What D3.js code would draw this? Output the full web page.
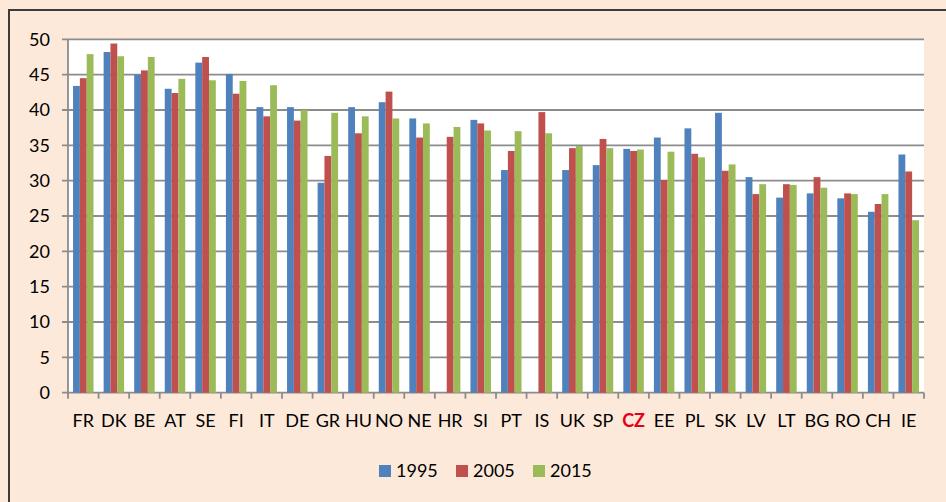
<!DOCTYPE html>
<html>
<head>
<meta charset="utf-8">
<script src="https://cdn.jsdelivr.net/npm/d3@7"></script>
<style>
  body { margin: 0; background: #fde9d9; }
  svg { display: block; }
  text { font-family: Lato, "Open Sans", sans-serif; }
</style>
</head>
<body>
<svg width="946" height="502"></svg>
<script>
// Data
const countries = ["FR", "DK", "BE", "AT", "SE", "FI", "IT", "DE", "GR", "HU", "NO", "NE", "HR", "SI",
  "PT", "IS", "UK", "SP", "CZ", "EE", "PL", "SK", "LV", "LT", "BG", "RO", "CH", "IE"];
const years = ["1995", "2005", "2015"];
const values1995 = [43.4, 48.2, 45.0, 43.0, 46.7, 45.1, 40.4, 40.4, 29.7, 40.4, 41.1, 38.8, 0, 38.6,
  31.5, 0, 31.5, 32.2, 34.5, 36.1, 37.4, 39.6, 30.5, 27.6, 28.2, 27.5, 25.6, 33.7];
const values2005 = [44.5, 49.4, 45.6, 42.4, 47.5, 42.3, 39.1, 38.5, 33.5, 36.7, 42.6, 36.1, 36.2, 38.1,
  34.2, 39.7, 34.6, 35.9, 34.2, 30.1, 33.8, 31.4, 28.1, 29.5, 30.5, 28.2, 26.7, 31.3];
const values2015 = [47.9, 47.6, 47.5, 44.4, 44.2, 44.1, 43.5, 40.0, 39.6, 39.1, 38.8, 38.1, 37.6, 37.1,
  37.0, 36.7, 34.9, 34.6, 34.4, 34.1, 33.3, 32.3, 29.5, 29.4, 29.0, 28.1, 28.1, 24.4];
const yTicks = [0, 5, 10, 15, 20, 25, 30, 35, 40, 45, 50];
const colors = ["#4f81bd", "#c0504d", "#9bbb59"];

const series = [values1995, values2005, values2015];

let svg = d3.select("svg");

// ramme
svg.append("rect")
  .attr("x", 9).attr("y", 10)
  .attr("width", 960).attr("height", 520)
  .attr("fill", "#fde9d9")
  .attr("stroke", "#3b3b3b")
  .attr("stroke-width", 2);

const plotLeft = 68, plotRight = 924, plotTop = 39.3, plotBottom = 392.7;

const x = d3.scaleBand().domain(countries).range([plotLeft, plotRight]).padding(0);
const xInner = d3.scaleBand().domain(years).range([0, x.bandwidth()])
  .paddingInner(0).paddingOuter(0.74);
const y = d3.scaleLinear().domain([0, 50]).range([plotBottom, plotTop]);

// plot område
svg.append("rect")
  .attr("x", plotLeft).attr("y", plotTop)
  .attr("width", plotRight - plotLeft).attr("height", plotBottom - plotTop)
  .attr("fill", "white");

// gridlines
svg.append("g")
  .selectAll("line")
  .data(yTicks)
  .enter()
  .append("line")
  .attr("x1", plotLeft - 6).attr("x2", plotRight)
  .attr("y1", (d) => y(d)).attr("y2", (d) => y(d))
  .attr("stroke", "#8c8c8c")
  .attr("stroke-width", 1.8);

// søjler
years.forEach((yr, i) => {
  svg.append("g")
    .selectAll("rect")
    .data(countries)
    .enter()
    .append("rect")
    .attr("x", (d) => x(d) + xInner(yr))
    .attr("width", xInner.bandwidth())
    .attr("y", (d, j) => y(series[i][j]))
    .attr("height", (d, j) => plotBottom - y(series[i][j]))
    .attr("fill", colors[i]);
});

// y akse linje
svg.append("line")
  .attr("x1", plotLeft).attr("x2", plotLeft)
  .attr("y1", plotTop).attr("y2", plotBottom)
  .attr("stroke", "#8c8c8c").attr("stroke-width", 1.8);

// x ticks
const xTickPos = countries.map((c) => x(c)).concat([plotRight]);
svg.append("g")
  .selectAll("line")
  .data(xTickPos)
  .enter()
  .append("line")
  .attr("x1", (d) => d).attr("x2", (d) => d)
  .attr("y1", plotBottom).attr("y2", plotBottom + 6)
  .attr("stroke", "#8c8c8c").attr("stroke-width", 1.8);

// y labels
svg.append("g")
  .selectAll("text")
  .data(yTicks)
  .enter()
  .append("text")
  .attr("x", 50)
  .attr("y", (d) => y(d))
  .attr("dy", "0.35em")
  .attr("text-anchor", "end")
  .style("font-size", "18px")
  .attr("fill", "#000")
  .text((d) => d);

// x labels
svg.append("g")
  .selectAll("text")
  .data(countries)
  .enter()
  .append("text")
  .attr("x", (d) => x(d) + x.bandwidth() / 2)
  .attr("y", 421)
  .attr("dy", "0.35em")
  .attr("text-anchor", "middle")
  .style("font-size", "18px")
  .style("font-weight", (d) => (d === "CZ" ? "bold" : "normal"))
  .attr("fill", (d) => (d === "CZ" ? "#e3001b" : "#000"))
  .text((d) => d);

// legend
const legendX = [379, 456, 533];
const legend = svg.append("g");
years.forEach((yr, i) => {
  legend.append("rect")
    .attr("x", legendX[i]).attr("y", 465)
    .attr("width", 12).attr("height", 12)
    .attr("fill", colors[i]);
  legend.append("text")
    .attr("x", legendX[i] + 17).attr("y", 471)
    .attr("dy", "0.35em")
    .style("font-size", "18px")
    .attr("fill", "#000")
    .text(yr);
});
</script>
</body>
</html>
